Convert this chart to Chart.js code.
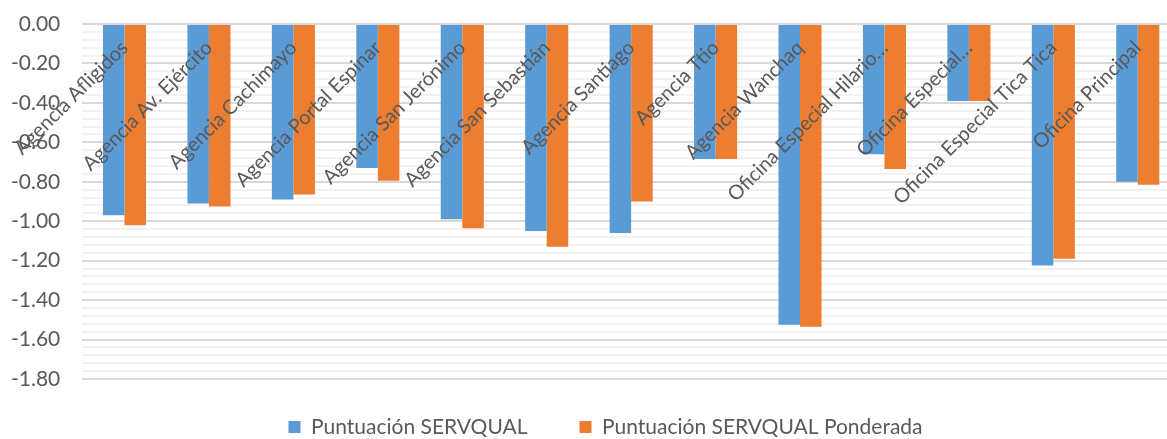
<!DOCTYPE html>
<html><head><meta charset="utf-8">
<script src="https://cdn.jsdelivr.net/npm/chart.js@4/dist/chart.umd.min.js"></script>
<style>html,body{margin:0;padding:0;overflow:hidden;background:#fff;}canvas{display:block;}</style>
</head><body>
<canvas id="c" width="1180" height="439"></canvas>
<script>
const categories = [
  'Agencia Afligidos', 'Agencia Av. Ejército', 'Agencia Cachimayo', 'Agencia Portal Espinar',
  'Agencia San Jerónimo', 'Agencia San Sebastián', 'Agencia Santiago', 'Agencia Ttio',
  'Agencia Wanchaq', 'Oficina Especial Hilario…', 'Oficina Especial…', 'Oficina Especial Tica Tica',
  'Oficina Principal'
];
const servqual = [-0.97, -0.91, -0.89, -0.73, -0.99, -1.05, -1.06, -0.685, -1.525, -0.66, -0.39, -1.225, -0.80];
const servqualPonderada = [-1.02, -0.925, -0.865, -0.795, -1.035, -1.13, -0.90, -0.685, -1.535, -0.735, -0.39, -1.19, -0.815];
const seriesNames = ['Puntuación SERVQUAL', 'Puntuación SERVQUAL Ponderada'];
const yMin = -1.8, yMax = 0, yMajorStep = 0.2, yMinorStep = 0.04;

const FONT = 'Lato';
const TXT = '#595959';
const isMajor = v => Math.abs(Math.round(v / yMajorStep) * yMajorStep - v) < 1e-6;

const LEGEND_PAD = 52, LEGEND_FONT = 21, LEGEND_CY = 427;
const legendFix = {
  id: 'legendFix',
  beforeInit(chart) {
    const lg = chart.legend;
    const fit = lg.fit;
    lg.fit = function () { fit.call(this); this.height = 60; };
    const draw = lg.draw;
    lg.draw = function (area) {
      const s = { top: this.top, bottom: this.bottom, left: this.left, right: this.right, height: this.height, width: this.width };
      this.top = LEGEND_CY - LEGEND_PAD - LEGEND_FONT / 2;
      this.bottom = chart.height;
      this.height = this.bottom - this.top;
      this.left = 31; this.right = chart.width;
      this.width = this.right - this.left;
      draw.call(this, area);
      Object.assign(this, s);
    };
  }
};

new Chart(document.getElementById('c'), {
  type: 'bar',
  data: {
    labels: categories,
    datasets: [
      { label: seriesNames[0], data: servqual, backgroundColor: '#5B9BD5', borderWidth: 0 },
      { label: seriesNames[1], data: servqualPonderada, backgroundColor: '#ED7D31', borderWidth: 0 }
    ]
  },
  plugins: [legendFix],
  options: {
    responsive: false,
    animation: false,
    categoryPercentage: 0.51,
    barPercentage: 1.0,
    layout: { padding: { top: 24, left: 0, right: 0, bottom: 0 } },
    scales: {
      x: {
        position: { y: 0 },
        offset: true,
        grid: { display: false, drawTicks: false },
        border: { display: false },
        ticks: {
          z: 1,
          autoSkip: false, minRotation: 45, maxRotation: 45,
          color: TXT, font: { family: FONT, size: 20 }, padding: 12
        }
      },
      y: {
        min: yMin, max: yMax,
        afterFit: s => { s.width = 82.3; },
        border: { display: false },
        grid: {
          drawTicks: true,
          tickLength: 22,
          tickColor: 'rgba(0,0,0,0)',
          color: ctx => isMajor(ctx.tick.value) ? '#d9d9d9' : '#f2f2f2',
          lineWidth: 2
        },
        ticks: {
          stepSize: yMinorStep, autoSkip: false, padding: 0,
          color: TXT, font: { family: FONT, size: 21 },
          callback: v => isMajor(v) ? (Math.round(v * 100) / 100 + 0).toFixed(2).replace('-0.00', '0.00') : ''
        }
      }
    },
    plugins: {
      tooltip: { enabled: false },
      legend: {
        position: 'bottom',
        labels: { boxWidth: 12, boxHeight: 12, padding: LEGEND_PAD, color: TXT, font: { family: FONT, size: LEGEND_FONT } }
      }
    }
  }
});
</script>
</body></html>
